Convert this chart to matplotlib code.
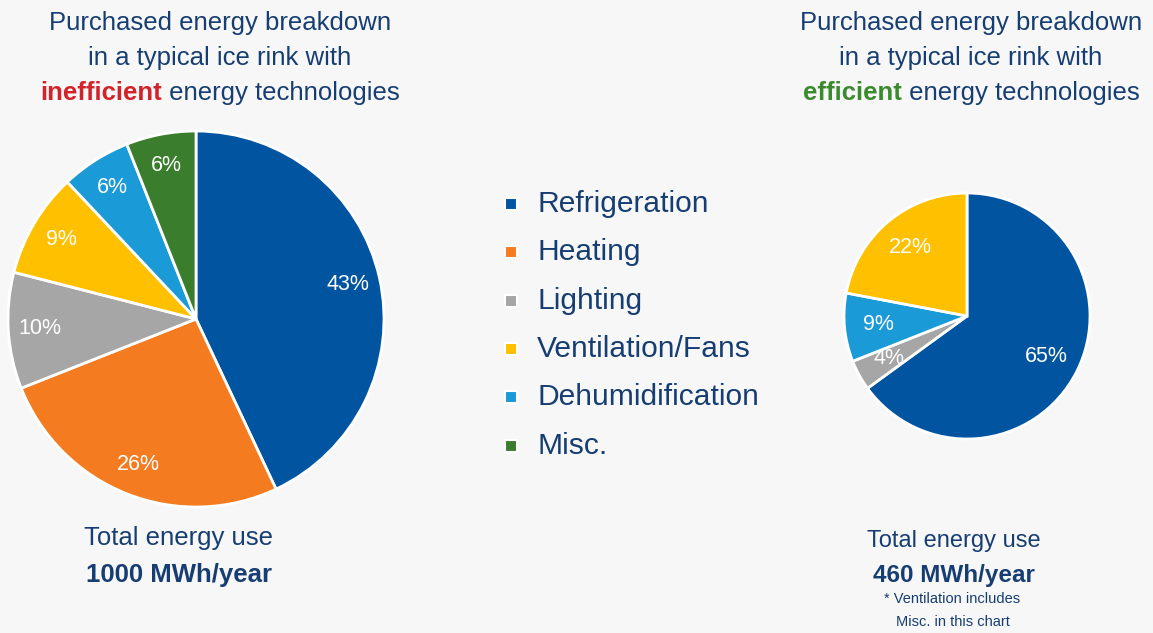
import matplotlib
matplotlib.use("Agg")
import matplotlib.pyplot as plt

plt.rcParams['font.family'] = ['Liberation Sans', 'DejaVu Sans']

# Share of purchased energy (%), clockwise from 12 o'clock
inefficient_labels = ['Refrigeration', 'Heating', 'Lighting', 'Ventilation/Fans',
                      'Dehumidification', 'Misc.']
inefficient_share = [43, 26, 10, 9, 6, 6]

efficient_labels = ['Refrigeration', 'Lighting', 'Dehumidification', 'Ventilation/Fans']
efficient_share = [65, 4, 9, 22]

legend_labels = ['Refrigeration', 'Heating', 'Lighting', 'Ventilation/Fans',
                 'Dehumidification', 'Misc.']

total_inefficient = 1000  # MWh/year
total_efficient = 460     # MWh/year

palette = {
    'Refrigeration': '#0154a0',
    'Heating': '#f47b20',
    'Lighting': '#a6a6a6',
    'Ventilation/Fans': '#ffc000',
    'Dehumidification': '#1a9ad7',
    'Misc.': '#3a7d2c',
}
navy = '#173e72'
bg = '#f7f7f7'

W, H = 1153, 633
fig = plt.figure(figsize=(W / 100, H / 100), dpi=100, facecolor=bg)

# full-figure layer in pixel units for all the text
ax_txt = fig.add_axes([0, 0, 1, 1])
ax_txt.set_xlim(0, W)
ax_txt.set_ylim(H, 0)
ax_txt.axis('off')


def pie_axes(cx, cy, r):
    pad = 1.05
    ax = fig.add_axes([(cx - pad * r) / W, (H - cy - pad * r) / H,
                       2 * pad * r / W, 2 * pad * r / H])
    ax.set_xlim(-pad, pad)
    ax.set_ylim(-pad, pad)
    return ax


def draw_pie(ax, labels, values, pctdist):
    ax.pie(values, colors=[palette[l] for l in labels], startangle=90,
           counterclock=False, autopct='%.0f%%', pctdistance=pctdist,
           wedgeprops=dict(edgecolor='white', linewidth=2),
           textprops=dict(color='white', fontsize=15.5))
    ax.set_xlim(-1.05, 1.05)
    ax.set_ylim(-1.05, 1.05)
    ax.set_aspect('equal')
    ax.axis('off')


ax_left = pie_axes(196, 319, 188)
draw_pie(ax_left, inefficient_labels, inefficient_share, 0.83)

ax_right = pie_axes(967, 316, 123)
draw_pie(ax_right, efficient_labels, efficient_share, 0.72)

renderer = fig.canvas.get_renderer()


def title_block(cx, word, word_color):
    ax_txt.text(cx, 30, 'Purchased energy breakdown', ha='center', va='baseline',
                fontsize=18.5, color=navy)
    ax_txt.text(cx, 65, 'in a typical ice rink with', ha='center', va='baseline',
                fontsize=18.5, color=navy)
    t1 = ax_txt.text(0, 100, word, ha='left', va='baseline', fontsize=18.5,
                     fontweight='bold', color=word_color)
    t2 = ax_txt.text(0, 100, ' energy technologies', ha='left', va='baseline',
                     fontsize=18.5, color=navy)
    w1 = t1.get_window_extent(renderer).width
    w2 = t2.get_window_extent(renderer).width
    x0 = cx - (w1 + w2) / 2
    t1.set_x(x0)
    t2.set_x(x0 + w1)


title_block(220, 'inefficient', '#d2232a')
title_block(971, 'efficient', '#3b8a2e')

# totals under each pie
ax_txt.text(179, 545, 'Total energy use', ha='center', va='baseline',
            fontsize=18.5, color=navy)
ax_txt.text(179, 582, f'{total_inefficient} MWh/year', ha='center', va='baseline',
            fontsize=18.5, fontweight='bold', color=navy)

ax_txt.text(954, 547, 'Total energy use', ha='center', va='baseline',
            fontsize=17, color=navy)
ax_txt.text(954, 582, f'{total_efficient} MWh/year', ha='center', va='baseline',
            fontsize=17.5, fontweight='bold', color=navy)
ax_txt.text(952, 603, '* Ventilation includes', ha='center', va='baseline',
            fontsize=10.5, color=navy)
ax_txt.text(953, 626, 'Misc. in this chart', ha='center', va='baseline',
            fontsize=10.5, color=navy)

# shared legend in the middle
for i, lab in enumerate(legend_labels):
    y = 204 + i * 48.3
    ax_txt.plot(511, y, marker='s', markersize=9, color=palette[lab],
                markeredgecolor='white', markeredgewidth=1.5, clip_on=False)
    ax_txt.text(537, y + 8, lab, ha='left', va='baseline', fontsize=21.6, color=navy)

fig.savefig('out.png', dpi=100, facecolor=bg)
